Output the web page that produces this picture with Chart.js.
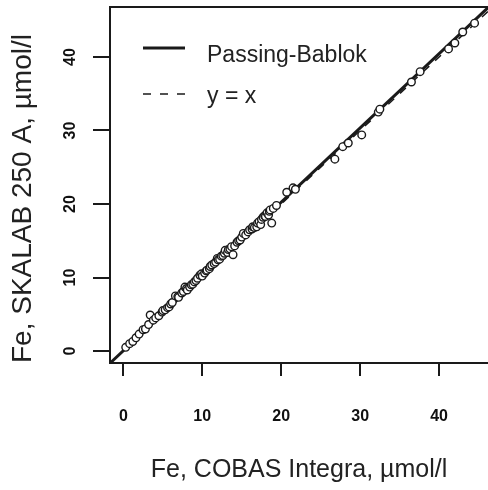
<!DOCTYPE html>
<html><head><meta charset="utf-8">
<script src="https://cdn.jsdelivr.net/npm/chart.js@4"></script>
<style>html,body{margin:0;padding:0;background:#fff;overflow:hidden}</style>
</head><body>
<canvas id="c" width="488" height="490"></canvas>
<script>
// Measured data (x: COBAS Integra, y: SKALAB 250 A), µmol/l
const cobasValues  = [0.3,0.8,1.2,1.6,2.0,2.5,2.8,3.2,3.4,3.8,4.1,4.5,4.9,5.0,5.3,5.6,5.8,6.0,6.2,6.6,6.9,7.0,7.4,7.6,7.8,8.0,8.1,8.4,8.6,8.8,9.0,9.2,9.4,9.7,9.9,10.0,10.3,10.5,10.6,10.9,11.0,11.2,11.5,11.7,11.9,12.0,12.2,12.4,12.6,12.8,12.9,13.2,13.3,13.5,13.7,13.9,14.1,14.4,14.6,14.8,15.0,15.2,15.5,15.8,16.0,16.3,16.4,16.6,16.9,17.0,17.2,17.4,17.5,17.7,17.9,18.0,18.2,18.4,18.5,18.6,18.8,19.0,19.4,20.7,21.5,21.8,26.8,27.8,28.5,30.2,32.3,32.5,36.5,37.6,41.2,42.0,43.0,44.5];
const skalabValues = [0.5,1.0,1.3,1.8,2.3,2.9,3.0,3.6,4.9,4.2,4.5,4.8,5.3,5.5,5.6,5.9,6.0,6.4,6.6,7.5,7.4,7.3,7.9,8.1,8.7,8.5,8.3,8.7,9.0,9.1,9.4,9.6,9.9,10.3,10.5,10.2,10.6,10.9,11.0,11.2,11.5,11.7,11.9,12.1,12.6,12.4,12.5,12.9,13.0,13.3,13.7,13.4,13.8,13.9,14.2,13.1,14.3,14.8,15.0,15.1,15.5,16.0,15.8,16.2,16.5,16.6,16.9,16.8,16.9,17.4,17.6,17.2,17.9,18.2,18.4,18.3,18.8,18.5,19.0,19.2,17.4,19.4,19.8,21.6,22.2,22.0,26.1,27.8,28.3,29.4,32.5,32.9,36.6,38.0,41.1,41.9,43.4,44.6];
const xTickValues = [0,10,20,30,40];
const yTickValues = [0,10,20,30,40];
const xLimits = [-1.69, 46.2];
const yLimits = [-1.63, 46.8];
// Passing-Bablok fit coefficients
const pbIntercept = 0.05;
const pbSlope = 1.01;
const lineEnds = [-5, 60];
const legendLabels = ['Passing-Bablok', 'y = x'];
const xTitle = 'Fe, COBAS Integra, µmol/l';
const yTitle = 'Fe, SKALAB 250 A, µmol/l';

const points = cobasValues.map((x, i) => ({x, y: skalabValues[i]}));
const pbLine = lineEnds.map(x => ({x, y: pbIntercept + pbSlope * x}));
const idLine = lineEnds.map(x => ({x, y: x}));

const INK = '#1a1a1a';

const frameAndLegend = {
  id: 'frameAndLegend',
  afterDraw(chart) {
    const {ctx, chartArea: a} = chart;
    ctx.save();
    ctx.strokeStyle = INK;
    ctx.lineWidth = 2;
    ctx.beginPath();
    ctx.moveTo(a.left, a.top);
    ctx.lineTo(a.right, a.top);
    ctx.stroke();
    // legend
    ctx.lineWidth = 3;
    ctx.beginPath(); ctx.moveTo(143, 48); ctx.lineTo(185, 48); ctx.stroke();
    ctx.lineWidth = 1.6;
    ctx.setLineDash([8, 9]);
    ctx.beginPath(); ctx.moveTo(143, 94); ctx.lineTo(185, 94); ctx.stroke();
    ctx.setLineDash([]);
    ctx.fillStyle = '#222';
    ctx.font = '23px "Liberation Sans", Arial, sans-serif';
    ctx.textBaseline = 'alphabetic';
    ctx.textAlign = 'left';
    ctx.fillText(legendLabels[0], 207, 62);
    ctx.fillText(legendLabels[1], 207, 103);
    ctx.restore();
  }
};

new Chart(document.getElementById('c'), {
  type: 'scatter',
  data: {
    datasets: [
      {label: 'data', data: points, pointStyle: 'circle', pointRadius: 3.8, borderWidth: 1.4,
       borderColor: INK, backgroundColor: '#fff', order: 0},
      {label: legendLabels[0], type: 'line', data: pbLine, borderColor: INK, borderWidth: 3,
       pointRadius: 0, fill: false, order: 1},
      {label: legendLabels[1], type: 'line', data: idLine, borderColor: INK, borderWidth: 1.5,
       borderDash: [8, 8], pointRadius: 0, fill: false, order: 2}
    ]
  },
  options: {
    responsive: false,
    animation: false,
    devicePixelRatio: 1,
    layout: {autoPadding: false, padding: {top: 7, left: 0, right: 0, bottom: 0}},
    plugins: {legend: {display: false}, tooltip: {enabled: false}},
    scales: {
      x: {
        type: 'linear', min: xLimits[0], max: xLimits[1],
        afterBuildTicks: s => { s.ticks = xTickValues.map(v => ({value: v})); },
        afterFit: s => { s.height = 127; s.paddingLeft = 0; s.paddingRight = 0; },
        border: {display: true, color: INK, width: 2},
        grid: {display: true, drawOnChartArea: false, drawTicks: true, tickLength: 13, color: INK, lineWidth: 2},
        ticks: {color: '#111', padding: 31, maxRotation: 0, minRotation: 0,
                font: {family: '"Liberation Sans Narrow", "Liberation Sans", Arial', size: 16, weight: 'bold'}},
        title: {display: true, text: xTitle, color: '#222', padding: {top: 0, bottom: 5},
                font: {family: '"Liberation Sans", Arial, sans-serif', size: 25}}
      },
      y: {
        type: 'linear', min: yLimits[0], max: yLimits[1],
        afterBuildTicks: s => { s.ticks = yTickValues.map(v => ({value: v})); },
        afterFit: s => { s.width = 110; s.paddingTop = 0; s.paddingBottom = 0; },
        border: {display: true, color: INK, width: 2},
        grid: {display: true, drawOnChartArea: false, drawTicks: true, tickLength: 17, color: INK, lineWidth: 2},
        ticks: {color: '#111', padding: 14, minRotation: 90, maxRotation: 90, crossAlign: 'center',
                font: {family: '"Liberation Sans Narrow", "Liberation Sans", Arial', size: 16, weight: 'bold'}},
        title: {display: true, text: yTitle, color: '#222', align: 'start', padding: {top: 6, bottom: 0},
                font: {family: '"Liberation Sans", Arial, sans-serif', size: 28}}
      }
    }
  },
  plugins: [frameAndLegend]
});
</script>
</body></html>
